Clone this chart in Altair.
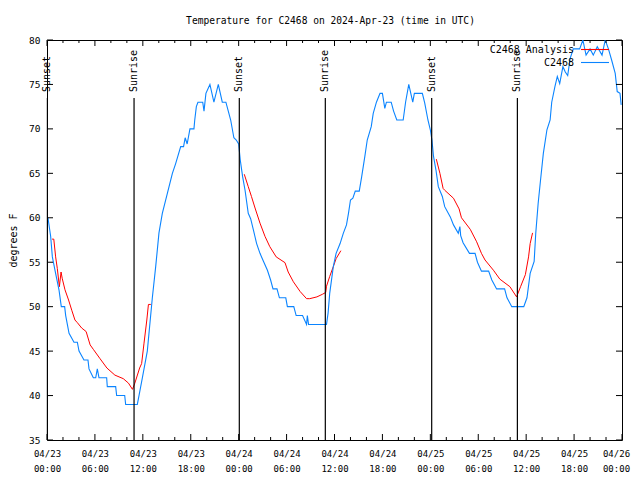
import altair as alt
import pandas as pd

FONT = "DejaVu Sans Mono"
TITLE = "Temperature for C2468 on 2024-Apr-23 (time in UTC)"
Y_TITLE = "degrees F"
series_names = ["C2468 Analysis", "C2468"]
series_colors = ["#ff0000", "#0a84ff"]

# hours since 04/23 00:00 UTC
x_major_ticks = list(range(0, 73, 6))
x_minor_ticks = [v for v in range(0, 73, 2) if v % 6]
y_ticks = list(range(35, 81, 5))

sun_hours = [0.05, 10.9, 24.08, 34.85, 48.17, 58.9]
sun_labels = ["Sunset", "Sunrise", "Sunset", "Sunrise", "Sunset", "Sunrise"]

blue_hours = [0.12, 0.46, 0.67, 1.08, 1.5, 1.79, 2.21, 2.34, 2.76, 3.38, 3.8, 4.01, 4.63, 5.13, 5.26,
              5.8, 6.1, 6.3, 6.51, 7.47, 7.55, 8.6, 8.72, 9.73, 9.85, 11.31, 11.52, 11.94, 12.56,
              13.19, 13.61, 14.02, 14.44, 15.07, 15.7, 16.11, 16.74, 17.1, 17.3, 17.55, 17.9, 18.4,
              18.5, 18.7, 18.9, 19.5, 19.66, 19.9, 20.4, 20.9, 21.45, 21.95, 22.4, 22.7, 23.0, 23.4,
              23.7, 24.0, 24.2, 24.5, 24.8, 25.2, 25.5, 25.85, 26.25, 26.67, 27.1, 27.6, 28.0, 28.3,
              28.8, 29.1, 29.9, 30.1, 30.9, 31.2, 32.0, 32.5, 32.6, 32.75, 35.0, 35.2, 35.4, 35.85,
              36.2, 36.7, 37.1, 37.5, 37.75, 38.0, 38.3, 38.6, 39.1, 39.4, 39.8, 40.1, 40.6, 40.85,
              41.25, 41.7, 42.0, 42.3, 42.5, 43.1, 43.4, 43.8, 44.6, 44.9, 45.3, 45.8, 46.0, 47.0,
              47.3, 47.7, 48.0, 48.2, 48.4, 48.7, 49.0, 49.5, 49.8, 50.5, 50.9, 51.5, 51.7, 51.8,
              52.1, 52.9, 53.6, 53.9, 54.4, 55.3, 55.7, 56.3, 57.3, 57.6, 58.2, 59.7, 60.1, 60.5,
              61.0, 61.2, 61.5, 61.8, 62.15, 62.6, 63.0, 63.2, 63.6, 63.9, 64.2, 64.6, 64.9, 65.2,
              65.5, 65.9, 66.7, 67.1, 67.5, 68.0, 68.4, 68.9, 69.5, 69.9, 70.3, 70.7, 71.15, 71.4,
              71.75, 71.9]
blue_temps = [60, 57.9, 55.6, 53.75, 51.9, 50, 50, 49, 47, 46, 46, 45, 44, 44, 43,
              42, 42, 43, 42, 42, 41, 41, 40, 40, 39, 39, 40, 42, 45,
              51, 54.5, 58.3, 60.5, 62.75, 65, 66.1, 68, 68, 69, 68.3, 70, 70,
              71, 72.5, 73, 73, 72, 74, 75, 73, 75, 73, 73, 72, 71, 69,
              68.75, 68.3, 66.5, 64.6, 63.1, 60.5, 59.9, 58.6, 57.1, 56, 55.1, 54.1, 53, 52,
              52, 51, 51, 50, 50, 49, 49, 48, 49, 48, 48, 49.3, 51.5, 54.5,
              56, 57.1, 58.25, 59.2, 60.5, 62, 62.2, 63, 63, 64.6, 66.9, 68.75, 70.25, 71.75,
              73, 74, 74, 72.3, 73, 73, 72, 71, 71, 73, 75, 73, 74, 74,
              72.9, 71, 69.9, 68.75, 66.9, 65.4, 63.5, 62.4, 61.25, 60.1, 59.2, 58.25, 59, 58,
              57.2, 56, 56, 55, 54, 54, 53, 52, 52, 51, 50, 50, 51, 53.75,
              55.1, 58.25, 61.6, 64.25, 67.25, 69.9, 71, 73, 74.75, 75.9, 75.1, 77, 76.4, 76,
              77.9, 79, 79, 80, 78.3, 79, 78.3, 79.25, 78.3, 80, 79, 77.75, 76.25, 74.2,
              74, 72.7]

red1_hours = [0.63, 0.85, 1.08, 1.29, 1.55, 1.76, 1.9, 2.25, 2.7, 3.1, 3.5, 3.8, 4.34, 4.9, 5.4,
              5.8, 6.6, 7.5, 8.5, 9.55, 10.2, 10.7, 11.0, 11.6, 11.85, 12.15, 12.5, 12.7, 13.0]
red1_temps = [57.6, 57.6, 55.6, 54.3, 52.25, 53.9, 53.2, 51.9, 50.75, 49.6, 48.5, 48.2, 47.6, 47.2, 45.7,
              45.2, 44.2, 43.1, 42.3, 41.9, 41.4, 40.7, 41.4, 43.1, 43.6, 45.9, 48.5, 50.25, 50.25]
red2_hours = [24.7, 25.2, 25.6, 26.05, 26.67, 27.3, 27.9, 28.7, 29.8, 30.2, 30.85, 31.7, 32.5, 32.9,
              33.8, 34.5, 34.9, 35.0, 35.4, 35.85, 36.2, 36.8]
red2_temps = [64.9, 63.5, 62.4, 61.1, 59.4, 57.9, 56.75, 55.6, 54.95, 53.9, 52.8, 51.7, 50.9, 50.9,
              51.1, 51.4, 51.6, 52.3, 53.4, 54.5, 55.4, 56.3]
red3_hours = [48.75, 49.2, 49.6, 49.8, 50.9, 51.6, 51.9, 53.0, 53.8, 54.4, 54.85, 55.9, 56.7, 57.96,
              58.8, 59.3, 59.9, 60.3, 60.5, 60.8]
red3_temps = [66.6, 65.0, 63.3, 63.1, 62.2, 61.0, 60.0, 58.7, 57.3, 56.0, 55.25, 54.1, 53.1, 52.25,
              51.1, 52.25, 53.6, 55.6, 57.1, 58.3]

W, H = 575, 400

blue_df = pd.DataFrame({"h": blue_hours, "t": blue_temps})
red_df = pd.concat([
    pd.DataFrame({"h": red1_hours, "t": red1_temps, "seg": 1}),
    pd.DataFrame({"h": red2_hours, "t": red2_temps, "seg": 2}),
    pd.DataFrame({"h": red3_hours, "t": red3_temps, "seg": 3}),
])
sun_df = pd.DataFrame({"h": sun_hours, "label": sun_labels})
xmaj_df = pd.DataFrame({"h": x_major_ticks})
xmin_df = pd.DataFrame({"h": x_minor_ticks})
yt_df = pd.DataFrame({"t": y_ticks})
one = pd.DataFrame({"k": [0]})

xscale = alt.Scale(domain=[0, 72], nice=False, zero=False)
yscale = alt.Scale(domain=[35, 80], nice=False, zero=False)
label_expr = ("['04/' + (23 + floor(datum.value / 24)), "
              "(datum.value % 24 < 10 ? '0' : '') + (datum.value % 24) + ':00']")
xaxis = alt.Axis(values=x_major_ticks, title=None, ticks=False, domain=False, grid=False,
                 labelExpr=label_expr, labelFont=FONT, labelFontSize=9, labelColor="black",
                 labelPadding=9, labelLineHeight=15, labelFlush=False, labelOverlap=False,
                 labelOffset={"condition": {"test": "datum.value >= 72", "value": -6}, "value": 0})
yaxis = alt.Axis(values=y_ticks, title=Y_TITLE, ticks=False, domain=False, grid=False,
                 labelFont=FONT, labelFontSize=9.5, labelColor="black", labelPadding=7,
                 titleFont=FONT, titleFontSize=10, titleFontWeight="normal", titleColor="black",
                 titlePadding=10)
X = alt.X("h:Q", scale=xscale, axis=xaxis)
Y = alt.Y("t:Q", scale=yscale, axis=yaxis)

red = alt.Chart(red_df).mark_line(color=series_colors[0], strokeWidth=1, clip=True).encode(
    x=X, y=Y, detail="seg:N")
blue = alt.Chart(blue_df).mark_line(color=series_colors[1], strokeWidth=1.1, clip=True).encode(
    x=X, y=Y)

sun_rules = alt.Chart(sun_df).mark_rule(color="black", strokeWidth=1.2).encode(
    x=X, y=alt.value(58), y2=alt.value(H))
sun_text = alt.Chart(sun_df).mark_text(angle=270, align="left", baseline="middle", font=FONT,
                                       fontSize=10, color="black").encode(
    x=X, y=alt.value(52), text="label:N")

tick_layers = [
    alt.Chart(xmaj_df).mark_rule(color="black").encode(x=X, y=alt.value(H), y2=alt.value(H - 6)),
    alt.Chart(xmaj_df).mark_rule(color="black").encode(x=X, y=alt.value(0), y2=alt.value(6)),
    alt.Chart(xmin_df).mark_rule(color="black").encode(x=X, y=alt.value(H), y2=alt.value(H - 3)),
    alt.Chart(xmin_df).mark_rule(color="black").encode(x=X, y=alt.value(0), y2=alt.value(3)),
    alt.Chart(yt_df).mark_rule(color="black").encode(y=Y, x=alt.value(0), x2=alt.value(6)),
    alt.Chart(yt_df).mark_rule(color="black").encode(y=Y, x=alt.value(W), x2=alt.value(W - 6)),
]

legend_layers = []
for i, (name, col) in enumerate(zip(series_names, series_colors)):
    ly = 9.5 + 13 * i
    legend_layers.append(
        alt.Chart(one).mark_text(align="right", baseline="middle", font=FONT, fontSize=10,
                                 color="black").encode(
            x=alt.value(527), y=alt.value(ly), text=alt.value(name)))
    legend_layers.append(
        alt.Chart(one).mark_rule(color=col, strokeWidth=1.1).encode(
            x=alt.value(534), x2=alt.value(562), y=alt.value(ly)))

chart = alt.layer(red, blue, sun_rules, sun_text, *tick_layers, *legend_layers).properties(
    width=W, height=H,
    title=alt.TitleParams(TITLE, font=FONT, fontSize=9.6, fontWeight="normal", anchor="middle",
                          color="black", offset=9, dx=-4),
    autosize=alt.AutoSizeParams(type="none"),
    padding={"left": 39, "top": 32, "right": 10, "bottom": 32},
    background="white",
).configure_view(stroke="black", strokeWidth=1)

chart.save("out.html", embed_options={"renderer": "svg", "actions": False})
